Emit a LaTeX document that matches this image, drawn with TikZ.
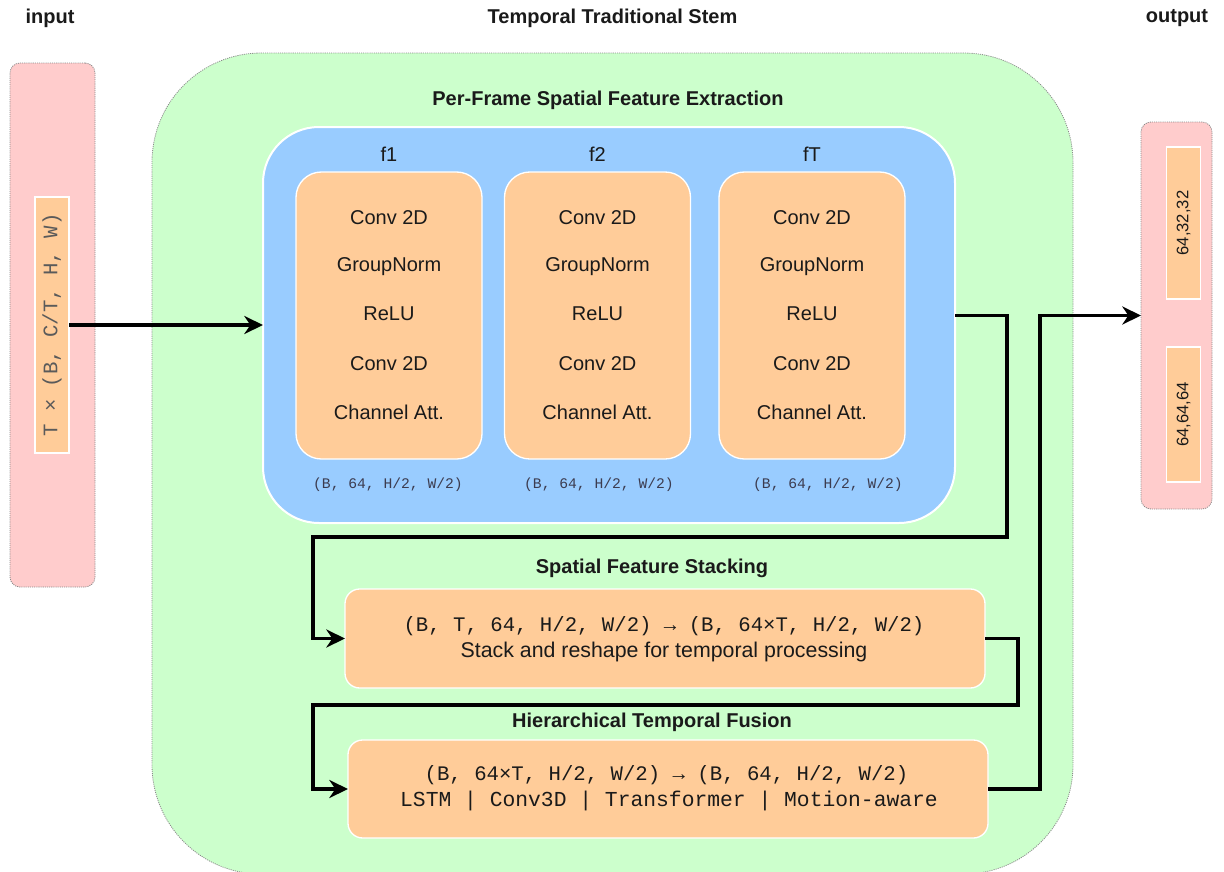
\documentclass[tikz,border=0pt]{standalone}
\usepackage{fontspec}
\setmainfont{Liberation Sans}
\setmonofont{Liberation Mono}
\usetikzlibrary{arrows.meta,calc}
\definecolor{pinkc}{HTML}{FFCCCC}
\definecolor{greenc}{HTML}{CCFFCC}
\definecolor{bluec}{HTML}{99CCFF}
\definecolor{orangec}{HTML}{FFCC99}
\definecolor{txt}{HTML}{1A1A1A}
\definecolor{dotc}{HTML}{8A8A8A}
\definecolor{graytxt}{HTML}{5A5A5A}
\definecolor{dimtxt}{HTML}{3C3C50}
\begin{document}
\begin{tikzpicture}[x=0.75pt,y=-0.75pt,
  every node/.style={inner sep=0pt, outer sep=0pt, text=txt},
  dotbox/.style={draw=dotc, line width=0.6pt, dash pattern=on 0.8pt off 0.8pt},
  obox/.style={fill=orangec, draw=white, line width=1pt},
  title/.style={font=\fontsize{15}{18}\selectfont\bfseries},
  lbl/.style={font=\fontsize{15}{18}\selectfont},
  mono/.style={font=\fontsize{15.5}{18}\selectfont\ttfamily},
  smallmono/.style={font=\fontsize{11}{13}\selectfont\ttfamily, text=dimtxt},
  conn/.style={line width=2.5pt, line join=miter, -{Stealth[length=14pt,width=13.5pt,inset=4.5pt]}},
]
\useasboundingbox (0,0) rectangle (1224,871);

% containers
\node[dotbox, fill=pinkc, rounded corners=7.5pt, minimum width=85*0.75pt, minimum height=524*0.75pt] (inbox) at (52.5,325) {};
\node[dotbox, fill=greenc, rounded corners=82pt, minimum width=921*0.75pt, minimum height=821*0.75pt] (stem) at (612.5,463.5) {};
\node[dotbox, fill=pinkc, rounded corners=7.5pt, minimum width=71*0.75pt, minimum height=387*0.75pt] (outbox) at (1176.5,315.5) {};

% titles
\node[title] (tin) at (50,18) {input};
\node[title] (tstem) at (612.5,18) {Temporal Traditional Stem};
\node[title] (tout) at (1177,18) {output};
\node[title] (tpf) at (608,100) {Per-Frame Spatial Feature Extraction};

% input label
\node[obox, rotate=90, minimum width=256*0.75pt, minimum height=34*0.75pt, mono, text=graytxt] (inlbl) at (52,325) {T × (B, C/T, H, W)};

% output labels
\node[obox, rotate=90, minimum width=152*0.75pt, minimum height=34*0.75pt, font=\fontsize{12.5}{14}\selectfont] (o1) at (1183.5,223) {64,32,32};
\node[obox, rotate=90, minimum width=135*0.75pt, minimum height=34*0.75pt, font=\fontsize{12.5}{14}\selectfont] (o2) at (1183.5,414.5) {64,64,64};

% per-frame block
\node[fill=bluec, draw=white, line width=1.5pt, rounded corners=42pt, minimum width=692*0.75pt, minimum height=396*0.75pt] (blue) at (609,325) {};
\foreach \n/\cx/\sx in {1/389/388, 2/597.5/599, T/812/828}{
  \node[lbl] (f\n) at (\cx,154) {f\n};
  \node[obox, rounded corners=19pt, minimum width=186*0.75pt, minimum height=287*0.75pt] (b\n) at (\cx,315.5) {};
  \node[lbl] (c\n a) at (\cx,218) {Conv 2D};
  \node[lbl] (c\n b) at (\cx,267) {GroupNorm};
  \node[lbl] (c\n c) at (\cx,314) {ReLU};
  \node[lbl] (c\n d) at (\cx,364) {Conv 2D};
  \node[lbl] (c\n e) at (\cx,412) {Channel Att.};
  \node[smallmono] (s\n) at (\sx,485) {(B, 64, H/2, W/2)};
}

% stacking
\node[title] (tst) at (652,568) {Spatial Feature Stacking};
\node[obox, rounded corners=11pt, minimum width=640*0.75pt, minimum height=99*0.75pt] (stack) at (665,638.5) {};
\node[mono] (stk1) at (664,626) {(B, T, 64, H/2, W/2) → (B, 64×T, H/2, W/2)};
\node[font=\fontsize{16}{18}\selectfont] (stk2) at (664,652) {Stack and reshape for temporal processing};

% hierarchical
\node[title] (thr) at (652,722) {Hierarchical Temporal Fusion};
\node[obox, rounded corners=11pt, minimum width=640*0.75pt, minimum height=98*0.75pt] (hier) at (668,789) {};
\node[mono] (h1) at (666.5,775) {(B, 64×T, H/2, W/2) → (B, 64, H/2, W/2)};
\node[font=\fontsize{16}{18}\selectfont\ttfamily] (h2) at (669,801) {LSTM | Conv3D | Transformer | Motion-aware};

% connectors
\draw[conn] (inlbl.south) -- (blue.west);
\draw[conn] (blue.east |- outbox.west) -| (1007,537) -- (313,537) |- (stack.west);
\draw[conn] (stack.east) -| (1018,705) -- (313,705) |- (hier.west);
\draw[conn] (hier.east) -| ($(outbox.west)-(101,0)$) -- (outbox.west);
\end{tikzpicture}
\end{document}
